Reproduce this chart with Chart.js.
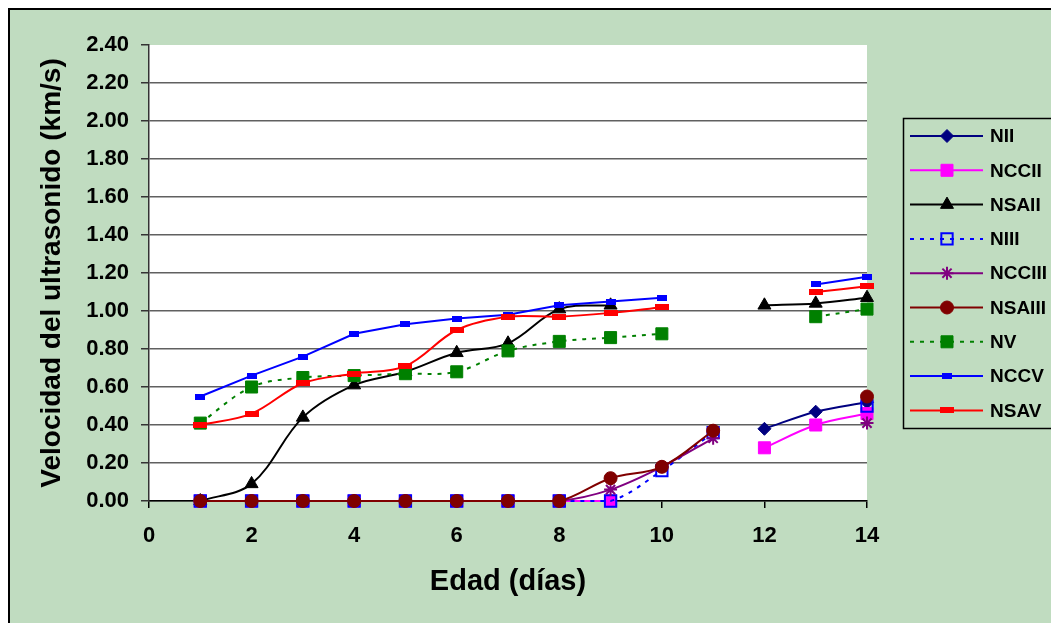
<!DOCTYPE html>
<html>
<head>
<meta charset="utf-8">
<script src="https://cdn.jsdelivr.net/npm/chart.js@4.4.0/dist/chart.umd.min.js"></script>
<style>
  html, body { margin: 0; padding: 0; width: 1051px; height: 623px; overflow: hidden; background: #fff; }
  #frame { position: absolute; left: 8px; top: 8px; width: 1100px; height: 700px; background: #c0dcc0; border-left: 2px solid #000; border-top: 2px solid #000; }
  #chart { position: absolute; left: 0; top: 0; }
</style>
</head>
<body>
<div id="frame"></div>
<canvas id="chart" width="1051" height="623"></canvas>
<script>
// edad en dias
const days = [1, 2, 3, 4, 5, 6, 7, 8, 9, 10, 11, 12, 13, 14];

// velocidad del ultrasonido (km/s), null = sin lectura
const nII    = [0, 0, 0, 0, 0, 0, 0, 0, null, null, null, 0.38, 0.47, 0.52];
const nCCII  = [0, 0, 0, 0, 0, 0, 0, 0, 0, null, null, 0.28, 0.40, 0.46];
const nSAII  = [0, 0.09, 0.44, 0.61, 0.68, 0.78, 0.83, 1.01, 1.03, null, null, 1.03, 1.04, 1.07];
const nIII   = [0, 0, 0, 0, 0, 0, 0, 0, 0, 0.16, 0.36, null, null, 0.50];
const nCCIII = [0, 0, 0, 0, 0, 0, 0, 0, 0.06, 0.18, 0.33, null, null, 0.41];
const nSAIII = [0, 0, 0, 0, 0, 0, 0, 0, 0.12, 0.18, 0.37, null, null, 0.55];
const nV     = [0.41, 0.60, 0.65, 0.66, 0.67, 0.68, 0.79, 0.84, 0.86, 0.88, null, null, 0.97, 1.01];
const nCCV   = [0.55, 0.66, 0.76, 0.88, 0.93, 0.96, 0.98, 1.03, 1.05, 1.07, null, null, 1.14, 1.18];
const nSAV   = [0.40, 0.46, 0.62, 0.67, 0.71, 0.90, 0.97, 0.97, 0.99, 1.02, null, null, 1.10, 1.13];

const yTicks = [0, 0.2, 0.4, 0.6, 0.8, 1.0, 1.2, 1.4, 1.6, 1.8, 2.0, 2.2, 2.4];
const xTicks = [0, 2, 4, 6, 8, 10, 12, 14];

const FONT = '"Liberation Sans", Arial, sans-serif';

// excel "dash" markers
function barMarker(w, h, color) {
  const c = document.createElement('canvas');
  c.width = w;
  c.height = h;
  const g = c.getContext('2d');
  g.fillStyle = color;
  g.fillRect(0, 0, w, h);
  return c;
}

function toPoints(values) {
  return days.map((d, i) => ({ x: d, y: values[i] }));
}

function series(label, values, color, style, radius, extra) {
  return Object.assign({
    label: label,
    data: toPoints(values),
    borderColor: color,
    backgroundColor: color,
    borderWidth: 2,
    pointStyle: style,
    pointRadius: radius,
    pointBackgroundColor: color,
    pointBorderColor: color,
    pointBorderWidth: 1,
    tension: 0.35,
    spanGaps: false,
    clip: false
  }, extra || {});
}

const datasets = [
  series('NII', nII, '#000080', 'rectRot', 6.5),
  series('NCCII', nCCII, '#ff00ff', 'rect', 8.5),
  series('NSAII', nSAII, '#000000', 'triangle', 7.5),
  series('NIII', nIII, '#0000ff', 'rect', 8, { borderDash: [4, 6], pointBackgroundColor: 'rgba(0,0,0,0)', pointBorderWidth: 2 }),
  series('NCCIII', nCCIII, '#800080', 'star', 6.5, { pointBorderWidth: 2 }),
  series('NSAIII', nSAIII, '#800000', 'circle', 6.5),
  series('NV', nV, '#008000', 'rect', 8.5, { borderDash: [4, 6] }),
  series('NCCV', nCCV, '#0000ff', barMarker(10, 6, '#0000ff'), 5, { tension: 0 }),
  series('NSAV', nSAV, '#ff0000', barMarker(14, 6, '#ff0000'), 7)
];
// later series on top, like the original
datasets.forEach((ds, i) => { ds.order = datasets.length - i; });

const plotBackground = {
  id: 'plotBackground',
  beforeDraw(chart) {
    const a = chart.chartArea;
    const ctx = chart.ctx;
    ctx.save();
    ctx.fillStyle = '#ffffff';
    ctx.fillRect(a.left, a.top, a.right - a.left, a.bottom - a.top);
    ctx.restore();
  }
};

const excelLegend = {
  id: 'excelLegend',
  afterDraw(chart) {
    const ctx = chart.ctx;
    ctx.save();
    ctx.strokeStyle = '#000';
    ctx.lineWidth = 1.5;
    ctx.strokeRect(903.5, 118.5, 200, 310);
    ctx.font = 'bold 19px ' + FONT;
    ctx.textBaseline = 'middle';
    ctx.textAlign = 'left';
    chart.data.datasets.forEach((ds, i) => {
      const y = 136 + i * 34.3;
      ctx.setLineDash(ds.borderDash || []);
      ctx.strokeStyle = ds.borderColor;
      ctx.lineWidth = ds.borderWidth;
      ctx.beginPath();
      ctx.moveTo(910, y);
      ctx.lineTo(983, y);
      ctx.stroke();
      ctx.setLineDash([]);
      ctx.fillStyle = ds.pointBackgroundColor;
      ctx.strokeStyle = ds.pointBorderColor;
      ctx.lineWidth = ds.pointBorderWidth;
      Chart.helpers.drawPoint(ctx, {
        pointStyle: ds.pointStyle,
        radius: ds.pointRadius,
        borderWidth: ds.pointBorderWidth,
        rotation: 0
      }, 947, y);
      ctx.fillStyle = '#000';
      ctx.fillText(ds.label, 990, y + 1);
    });
    ctx.restore();
  }
};

Chart.defaults.color = '#000';
Chart.defaults.font.family = FONT;

new Chart(document.getElementById('chart'), {
  type: 'line',
  data: { datasets: datasets },
  options: {
    responsive: false,
    animation: false,
    events: [],
    layout: { padding: { left: 0, top: 45, right: 184, bottom: 0 } },
    plugins: {
      legend: { display: false },
      tooltip: { enabled: false }
    },
    scales: {
      x: {
        type: 'linear',
        min: 0,
        max: 14,
        afterBuildTicks: (scale) => { scale.ticks = xTicks.map(v => ({ value: v })); },
        afterFit: (scale) => { scale.height = 122; },
        ticks: {
          font: { size: 22, weight: 'bold' },
          padding: 15,
          maxRotation: 0,
          callback: (v) => String(v)
        },
        grid: { drawOnChartArea: false, drawTicks: true, tickLength: 7, tickColor: '#000', lineWidth: 1.5 },
        border: { color: '#000', width: 1.5 },
        title: {
          display: true,
          text: 'Edad (días)',
          font: { size: 29, weight: 'bold' },
          padding: { top: 0, bottom: 24 }
        }
      },
      y: {
        min: 0,
        max: 2.4,
        afterBuildTicks: (scale) => { scale.ticks = yTicks.map(v => ({ value: v })); },
        afterFit: (scale) => { scale.width = 149; },
        ticks: {
          font: { size: 22, weight: 'bold' },
          padding: 12,
          callback: (v) => Number(v).toFixed(2)
        },
        grid: {
          color: (c) => (c.tick && Math.abs(c.tick.value - 2.4) < 1e-6) ? 'rgba(0,0,0,0)' : '#606060',
          lineWidth: 1.5,
          drawTicks: true,
          tickLength: 8,
          tickColor: '#333'
        },
        border: { color: '#333', width: 1.5 },
        title: {
          display: true,
          text: 'Velocidad del ultrasonido (km/s)',
          font: { size: 28, weight: 'bold' },
          padding: { top: 35, bottom: 0 }
        }
      }
    }
  },
  plugins: [plotBackground, excelLegend]
});
</script>
</body>
</html>
